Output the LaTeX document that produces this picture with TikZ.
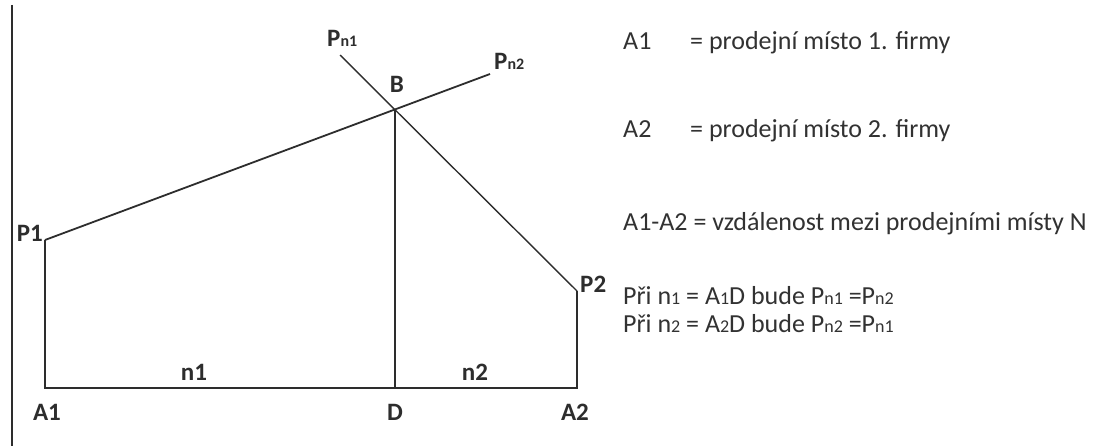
\documentclass[tikz,border=0pt]{standalone}
\usepackage{fontspec}
\setmainfont{Carlito}
\usepackage{xcolor}
\usetikzlibrary{positioning}
\definecolor{drawGray}{RGB}{45,45,45}
\definecolor{textGray}{RGB}{50,50,50}
\newcommand{\sm}[1]{{\fontsize{16}{16}\selectfont #1}}
\newcommand{\smtxt}[1]{{\fontsize{18}{18}\selectfont #1}}

\begin{document}
\begin{tikzpicture}[
    x=1pt, y=-1pt,
    line/.style={draw=drawGray, line width=1.4pt},
    lbl/.style={inner sep=0pt, font=\fontsize{25}{25}\selectfont\bfseries, text=drawGray},
    note/.style={inner sep=0pt, anchor=base west, font=\fontsize{26}{30}\selectfont, text=textGray}
]
    \useasboundingbox[fill=white] (0,0) rectangle (1097,446);
    % points of the sketch
    \coordinate (a1) at (45,388);
    \coordinate (p1) at (45,240);
    \coordinate (d) at (395,388);
    \coordinate (b) at (395,110);
    \coordinate (a2) at (577,388);
    \coordinate (p2) at (577,291);
    \coordinate (pn1) at (340,55);
    \coordinate (pn2) at (490,74);
    \coordinate (edgeTop) at (12,5);
    \coordinate (edgeBot) at (12,446);

    \draw[draw=drawGray, line width=2pt] (edgeTop) -- (edgeBot);
    \draw[line] (p1) -- (a1) -- (a2) -- (p2);
    \draw[line] (d) -- (b);
    \draw[line, line width=1.8pt] (p1) -- (pn2);
    \draw[line] (p2) -- (pn1);

    % labels
    \node[lbl, anchor=base east] (lp1) at (43,242) {P1};
    \node[lbl, anchor=base west] (lp2) at (580,292) {P2};
    \node[lbl, anchor=base] (la1) at (47,420) {A1};
    \node[lbl, anchor=base] (ld) at (395,420) {D};
    \node[lbl, anchor=base] (la2) at (575,420) {A2};
    \node[lbl, anchor=base] (ln1) at (194,380) {n1};
    \node[lbl, anchor=base] (ln2) at (475,380) {n2};
    \node[lbl, anchor=base] (lb) at (397,93) {B};
    \node[lbl, anchor=base west] (lpn1) at (327,47) {P\sm{n1}};
    \node[lbl, anchor=base west] (lpn2) at (494,70) {P\sm{n2}};

    % legend
    \node[note] (n1a) at (623,50) {A1};
    \node[note] (n1b) at (690,50) {= prodejní místo 1. firmy};
    \node[note] (n2a) at (623,138) {A2};
    \node[note] (n2b) at (690,138) {= prodejní místo 2. firmy};
    \node[note] (n3) at (623,231) {A1-A2 = vzdálenost mezi prodejními místy N};
    \node[note] (n4) at (623,304) {Při n\smtxt{1} = A\smtxt{1}D bude P\smtxt{n1} =P\smtxt{n2}};
    \node[note] (n5) at (623,332) {Při n\smtxt{2} = A\smtxt{2}D bude P\smtxt{n2} =P\smtxt{n1}};
\end{tikzpicture}
\end{document}
